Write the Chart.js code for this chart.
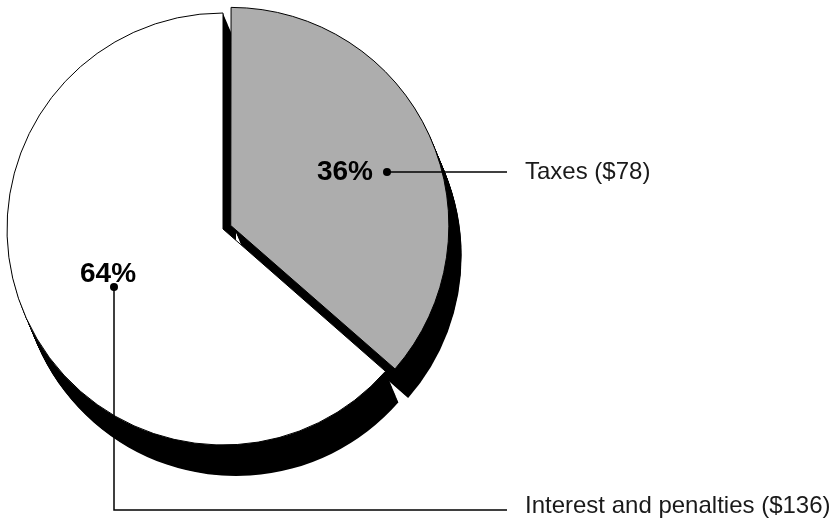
<!DOCTYPE html>
<html>
<head>
<meta charset="utf-8">
<script src="https://cdn.jsdelivr.net/npm/chart.js@4.4.1/dist/chart.umd.min.js"></script>
<style>
    html, body { margin: 0; padding: 0; background: #fff; }
    #wrap { width: 833px; height: 523px; position: relative; }
</style>
</head>
<body>
<div id="wrap"><canvas id="pieChart" width="833" height="523"></canvas></div>
<script>
// Datos del grafico
const categories = ['Taxes', 'Interest and penalties'];
const amounts = [78, 136];
const sliceColors = ['#adadad', '#ffffff'];
const explode = [34, 0];

const total = amounts.reduce((s, v) => s + v, 0);
const percents = amounts.map(v => Math.round(v / total * 100) + '%');
const labelTexts = categories.map((c, i) => `${c} ($${amounts[i]})`);

const FONT = "'Liberation Sans', Arial, Helvetica, sans-serif";
const SHADOW = { dx: 13, dy: 31, steps: 40 };

// misma traslacion que usa ArcElement.draw para el offset
function arcShift(el) {
    const off = (el.options.offset || 0) / 4;
    const circ = el.endAngle - el.startAngle;
    const fix = 1 - Math.sin(Math.min(Math.PI, circ || 0));
    const mid = (el.startAngle + el.endAngle) / 2;
    const d = off + off * fix;
    return { x: Math.cos(mid) * d, y: Math.sin(mid) * d };
}

const shadowPlugin = {
    id: 'pieShadow',
    beforeDatasetsDraw(chart) {
        const ctx = chart.ctx;
        const arcs = chart.getDatasetMeta(0).data;
        ctx.save();
        ctx.fillStyle = '#000';
        for (let k = 1; k <= SHADOW.steps; k++) {
            const t = k / SHADOW.steps;
            arcs.forEach(el => {
                const s = arcShift(el);
                const cx = el.x + s.x + SHADOW.dx * t;
                const cy = el.y + s.y + SHADOW.dy * t;
                ctx.beginPath();
                ctx.moveTo(cx, cy);
                ctx.arc(cx, cy, el.outerRadius, el.startAngle, el.endAngle);
                ctx.closePath();
                ctx.fill();
            });
        }
        ctx.restore();
    }
};

const calloutPlugin = {
    id: 'callouts',
    afterDatasetsDraw(chart) {
        const ctx = chart.ctx;
        const arcs = chart.getDatasetMeta(0).data;
        const textX = 525;
        const lineEnd = 507;

        const dot = (x, y) => {
            ctx.beginPath();
            ctx.arc(x, y, 4, 0, Math.PI * 2);
            ctx.fill();
        };

        ctx.save();
        ctx.fillStyle = '#000';
        ctx.strokeStyle = '#000';
        ctx.lineWidth = 1.5;

        // Taxes
        const a = arcs[0];
        const p0 = { x: a.x + 164, y: a.y - 57 };
        ctx.beginPath();
        ctx.moveTo(p0.x, p0.y);
        ctx.lineTo(lineEnd, p0.y);
        ctx.stroke();
        dot(p0.x, p0.y);
        ctx.font = `bold 28px ${FONT}`;
        ctx.textAlign = 'right';
        ctx.textBaseline = 'alphabetic';
        ctx.fillText(percents[0], p0.x - 14, p0.y + 8);
        ctx.font = `24px ${FONT}`;
        ctx.textAlign = 'left';
        ctx.fillStyle = '#1a1a1a';
        ctx.fillText(labelTexts[0], textX, p0.y + 7);

        // Interest and penalties
        const b = arcs[1];
        const p1 = { x: b.x - 109, y: b.y + 58 };
        const bottomY = 510;
        ctx.fillStyle = '#000';
        ctx.beginPath();
        ctx.moveTo(p1.x, p1.y);
        ctx.lineTo(p1.x, bottomY);
        ctx.lineTo(lineEnd, bottomY);
        ctx.stroke();
        dot(p1.x, p1.y);
        ctx.font = `bold 28px ${FONT}`;
        ctx.textAlign = 'left';
        ctx.fillText(percents[1], p1.x - 34, p1.y - 5);
        ctx.font = `24px ${FONT}`;
        ctx.fillStyle = '#1a1a1a';
        ctx.fillText(labelTexts[1], textX, bottomY + 3);

        ctx.restore();
    }
};

new Chart(document.getElementById('pieChart'), {
    type: 'pie',
    data: {
        labels: categories,
        datasets: [{
            data: amounts,
            backgroundColor: sliceColors,
            borderColor: '#000',
            borderWidth: 1,
            offset: explode
        }]
    },
    options: {
        responsive: false,
        animation: false,
        radius: 216,
        layout: { padding: { left: 0, top: 0, right: 387, bottom: 65 } },
        plugins: {
            legend: { display: false },
            tooltip: { enabled: false }
        }
    },
    plugins: [shadowPlugin, calloutPlugin]
});
</script>
</body>
</html>
